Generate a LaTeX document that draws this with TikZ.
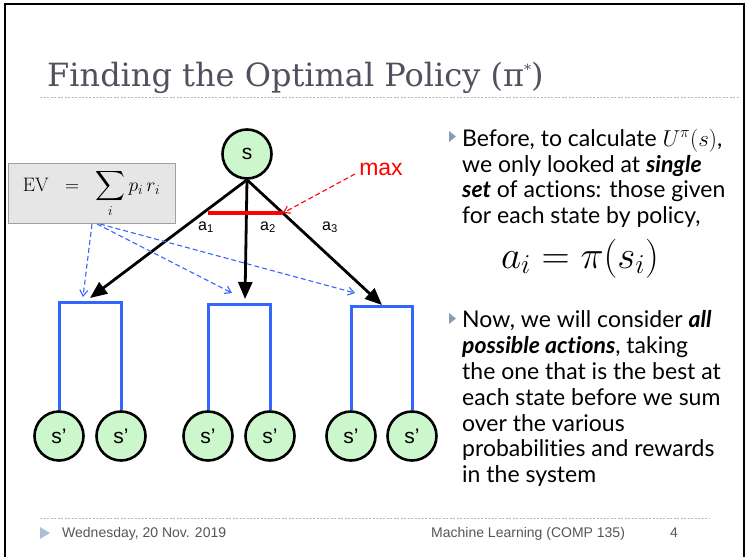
\RequirePackage{fix-cm}
\documentclass[tikz,border=0pt]{standalone}
\usepackage{exscale}
\usepackage[no-math]{fontspec}
\setmainfont{Lato}[Ligatures=NoCommon]
\newfontfamily\titlefont{DejaVu Serif}
\newfontfamily\helv{Liberation Sans}
\usetikzlibrary{arrows.meta}
\definecolor{nodegreen}{HTML}{CCF7CC}
\definecolor{lineblue}{HTML}{3366FF}
\definecolor{maxred}{HTML}{FF0000}
\definecolor{boxgray}{HTML}{E6E6E6}
\definecolor{boxedge}{HTML}{A0A0A0}
\definecolor{titlegray}{HTML}{50505E}
\definecolor{dotcol}{HTML}{A8BCD0}
\definecolor{footgray}{HTML}{555555}
\definecolor{bulletcol}{HTML}{8C9BB5}
\definecolor{footbullet}{HTML}{A9C0D8}
\tikzset{
  state/.style={circle, draw=black, line width=2.6pt, fill=nodegreen, minimum size=49pt, inner sep=0pt, font=\helv\fontsize{21}{21}\selectfont},
  actarrow/.style={line width=2.8pt, -{Triangle[length=17pt,width=14pt]}},
  bracket/.style={draw=lineblue, line width=3pt},
  evarrow/.style={draw=lineblue, line width=1.1pt, dash pattern=on 5pt off 3pt, -{Straight Barb[length=6pt,width=8pt]}},
  alabel/.style={font=\helv\fontsize{16}{16}\selectfont, inner sep=0pt},
  txtline/.style={anchor=base west, inner sep=0pt, font=\fontsize{23}{26}\selectfont, text=black},
  bullet/.style={fill=bulletcol, draw=none},
  sepline/.style={draw=dotcol, line width=0.8pt, dash pattern=on 2pt off 1.5pt},
  foottext/.style={anchor=base west, inner sep=0pt, text=footgray, font=\helv\fontsize{14}{14}\selectfont},
}
\begin{document}
\begin{tikzpicture}[x=1pt,y=-1pt]
\useasboundingbox (0,0) rectangle (747,557);
% frame
\draw[line width=2.2pt] (5,557) -- (5,4) -- (744,4) -- (744,557);
% title
\node[anchor=base west, inner sep=0pt, text=titlegray, font=\titlefont\fontsize{32}{34}\selectfont] (title) at (47,86) {Finding the Optimal Policy (π\raisebox{12pt}{\fontsize{14}{14}\selectfont *})};
\coordinate (tl1) at (40,97);
\coordinate (tl2) at (740,97);
\draw[sepline] (tl1) -- (tl2);
% nodes
\node[state] (s) at (247,154) {s};
\node[state] (c1) at (59,436) {s’};
\node[state] (c2) at (121,436) {s’};
\node[state] (c3) at (208,436) {s’};
\node[state] (c4) at (270,436) {s’};
\node[state] (c5) at (351,436) {s’};
\node[state] (c6) at (412,436) {s’};
% brackets
\coordinate (t1) at (90,302);
\coordinate (t2) at (245,304);
\coordinate (t3) at (382,306);
\draw[bracket] (c1.north) |- (t1) -| (c2.north);
\draw[bracket] (c3.north) |- (t2) -| (c4.north);
\draw[bracket] (c5.north) |- (t3) -| (c6.north);
% action arrows
\coordinate (h1) at (90,298);
\coordinate (h2) at (245,299);
\coordinate (h3) at (382,305);
\draw[actarrow] (s.south) -- (h1);
\draw[actarrow] (s.south) -- (h2);
\draw[actarrow] (s.south) -- (h3);
% max
\coordinate (m1) at (208,213);
\coordinate (m2) at (283,213);
\draw[draw=maxred, line width=3.2pt] (m1) -- (m2);
\node[text=maxred, font=\helv\fontsize{23}{23}\selectfont, inner sep=0pt] (max) at (381,169) {max};
\coordinate (mt) at (355,174);
\draw[draw=maxred, line width=1.1pt, dash pattern=on 5pt off 3pt, -{Straight Barb[length=6pt,width=8pt]}] (mt) -- (m2);
\node[alabel] (a1) at (206,227) {a\textsubscript{1}};
\node[alabel] (a2) at (268,227) {a\textsubscript{2}};
\node[alabel] (a3) at (330,227) {a\textsubscript{3}};
% EV box
\node[draw=boxedge, fill=boxgray, line width=1pt, minimum width=167pt, minimum height=60pt, inner sep=0pt, font=\fontsize{19.5}{20}\selectfont] (ev) at (91.5,193.5) {$\displaystyle\mathrm{EV}\;\;=\;\;\sum_i p_i\,r_i$};
\coordinate (e1) at (92,224);
\coordinate (e2) at (97,224);
\coordinate (e3) at (100,224);
\coordinate (f1) at (83,297);
\coordinate (f2) at (232,293);
\coordinate (f3) at (355,293);
\draw[evarrow] (e1) -- (f1);
\draw[evarrow] (e2) -- (f2);
\draw[evarrow] (e3) -- (f3);
% right text
\fill[bullet] (449,131) -- (456,136.5) -- (449,142) -- cycle;
\node[txtline] (l1) at (462,146) {Before, to calculate $U^{\pi}(s)$,};
\node[txtline] (l2) at (462,172) {we only looked at \textbf{\textit{single}}};
\node[txtline] (l3) at (462,197.5) {\textbf{\textit{set}} of actions: those given};
\node[txtline] (l4) at (462,223) {for each state by policy,};
\node[anchor=base, inner sep=0pt, font=\fontsize{39}{40}\selectfont] (eq) at (580,268) {$a_i = \pi(s_i)$};
\fill[bullet] (449,313) -- (456,318.5) -- (449,324) -- cycle;
\node[txtline] (m1l) at (462,327) {Now, we will consider \textbf{\textit{all}}};
\node[txtline] (m2l) at (462,353) {\textbf{\textit{possible actions}}, taking};
\node[txtline] (m3l) at (462,379) {the one that is the best at};
\node[txtline] (m4l) at (462,405) {each state before we sum};
\node[txtline] (m5l) at (462,431) {over the various};
\node[txtline] (m6l) at (462,456) {probabilities and rewards};
\node[txtline] (m7l) at (462,482) {in the system};
% footer
\coordinate (fl1) at (40,518);
\coordinate (fl2) at (710,518);
\draw[sepline] (fl1) -- (fl2);
\fill[footbullet] (40,527) -- (50,533) -- (40,539) -- cycle;
\node[foottext] (date) at (62,537) {Wednesday, 20 Nov. 2019};
\node[foottext] (course) at (431,537) {Machine Learning (COMP 135)};
\node[foottext] (page) at (670,537) {4};
\end{tikzpicture}
\end{document}
